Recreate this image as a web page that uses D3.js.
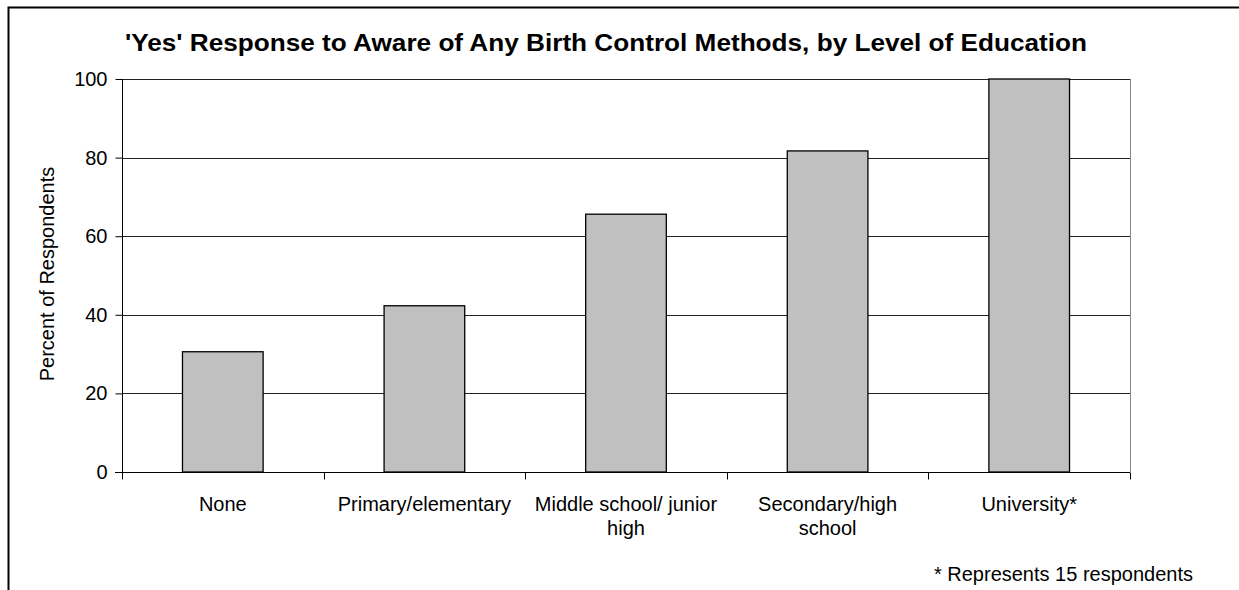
<!DOCTYPE html>
<html><head><meta charset="utf-8">
<script src="https://cdn.jsdelivr.net/npm/d3@7"></script>
<style>body{margin:0;background:#fff}text{font-family:"Liberation Sans",Arial,sans-serif;fill:#000}</style>
</head><body><svg id="c" width="1239" height="590"></svg>
<script>
const categories = [["None"],["Primary/elementary"],["Middle school/ junior","high"],["Secondary/high","school"],["University*"]];
const values = [30.6, 42.3, 65.6, 81.7, 100];
const yTicks = [0,20,40,60,80,100];
const title = "'Yes' Response to Aware of Any Birth Control Methods, by Level of Education";
const yLabel = "Percent of Respondents";
const footnote = "* Represents 15 respondents";

const svg = d3.select("#c");
const L=122, R=1130, T=79, B=472;
// outer frame
svg.append("path").attr("d","M8.5,590 V7.5 H1239").attr("fill","none").attr("stroke","#000").attr("stroke-width",2);

const x = d3.scaleBand().domain(d3.range(categories.length)).range([L,R]).paddingInner(0).paddingOuter(0);
const y = d3.scaleLinear().domain([0,100]).range([B,T]);

// gridlines
svg.append("g").selectAll("line").data(yTicks.filter(d=>d>0)).join("line")
  .attr("x1",L).attr("x2",R).attr("y1",d=>Math.round(y(d))+0.5).attr("y2",d=>Math.round(y(d))+0.5)
  .attr("stroke","#222").attr("stroke-width",1);
// plot right border
svg.append("line").attr("x1",R+0.5).attr("x2",R+0.5).attr("y1",T).attr("y2",B).attr("stroke","#888");

// bars
const bw = x.bandwidth()*0.4;
svg.append("g").selectAll("rect").data(values).join("rect")
  .attr("x",(d,i)=>x(i)+x.bandwidth()/2-bw/2).attr("width",bw)
  .attr("y",d=>y(d)).attr("height",d=>B-y(d))
  .attr("fill","#c0c0c0").attr("stroke","#000").attr("stroke-width",1.3);

// y axis
const ya = svg.append("g").attr("transform",`translate(${L+0.5},0)`)
  .call(d3.axisLeft(y).tickValues(yTicks).tickSize(7).tickPadding(8));
ya.select(".domain").attr("d",`M0,${T}V${B}`).attr("stroke","#000");
ya.selectAll("text").style("font-size","20px").attr("fill","#000");
ya.selectAll(".tick line").attr("stroke","#000");

// x axis
const xa = svg.append("g").attr("transform",`translate(0,${B+0.5})`);
xa.append("line").attr("x1",L-7).attr("x2",R).attr("stroke","#000");
const bounds = d3.range(categories.length+1).map(i=> i<categories.length ? x(i) : R);
xa.selectAll(".t").data(bounds).join("line").attr("class","t")
  .attr("x1",d=>Math.round(d)+0.5).attr("x2",d=>Math.round(d)+0.5).attr("y1",0).attr("y2",7).attr("stroke","#000");
const lbl = xa.selectAll(".lbl").data(categories).join("text").attr("class","lbl")
  .attr("text-anchor","middle").style("font-size","20px");
lbl.each(function(lines,i){
  d3.select(this).selectAll("tspan").data(lines).join("tspan")
    .attr("x",x(i)+x.bandwidth()/2).attr("y",(d,j)=>38+j*24).text(d=>d);
});

// title
svg.append("text").attr("x",606).attr("y",51).attr("text-anchor","middle")
  .attr("textLength",962).attr("lengthAdjust","spacingAndGlyphs")
  .style("font-size","24px").style("font-weight","bold").text(title);
// y label
svg.append("text").attr("transform","translate(54,274) rotate(-90)").attr("text-anchor","middle")
  .style("font-size","20px").text(yLabel);
// footnote
svg.append("text").attr("x",1193).attr("y",581).attr("text-anchor","end").style("font-size","20px").text(footnote);
</script></body></html>
